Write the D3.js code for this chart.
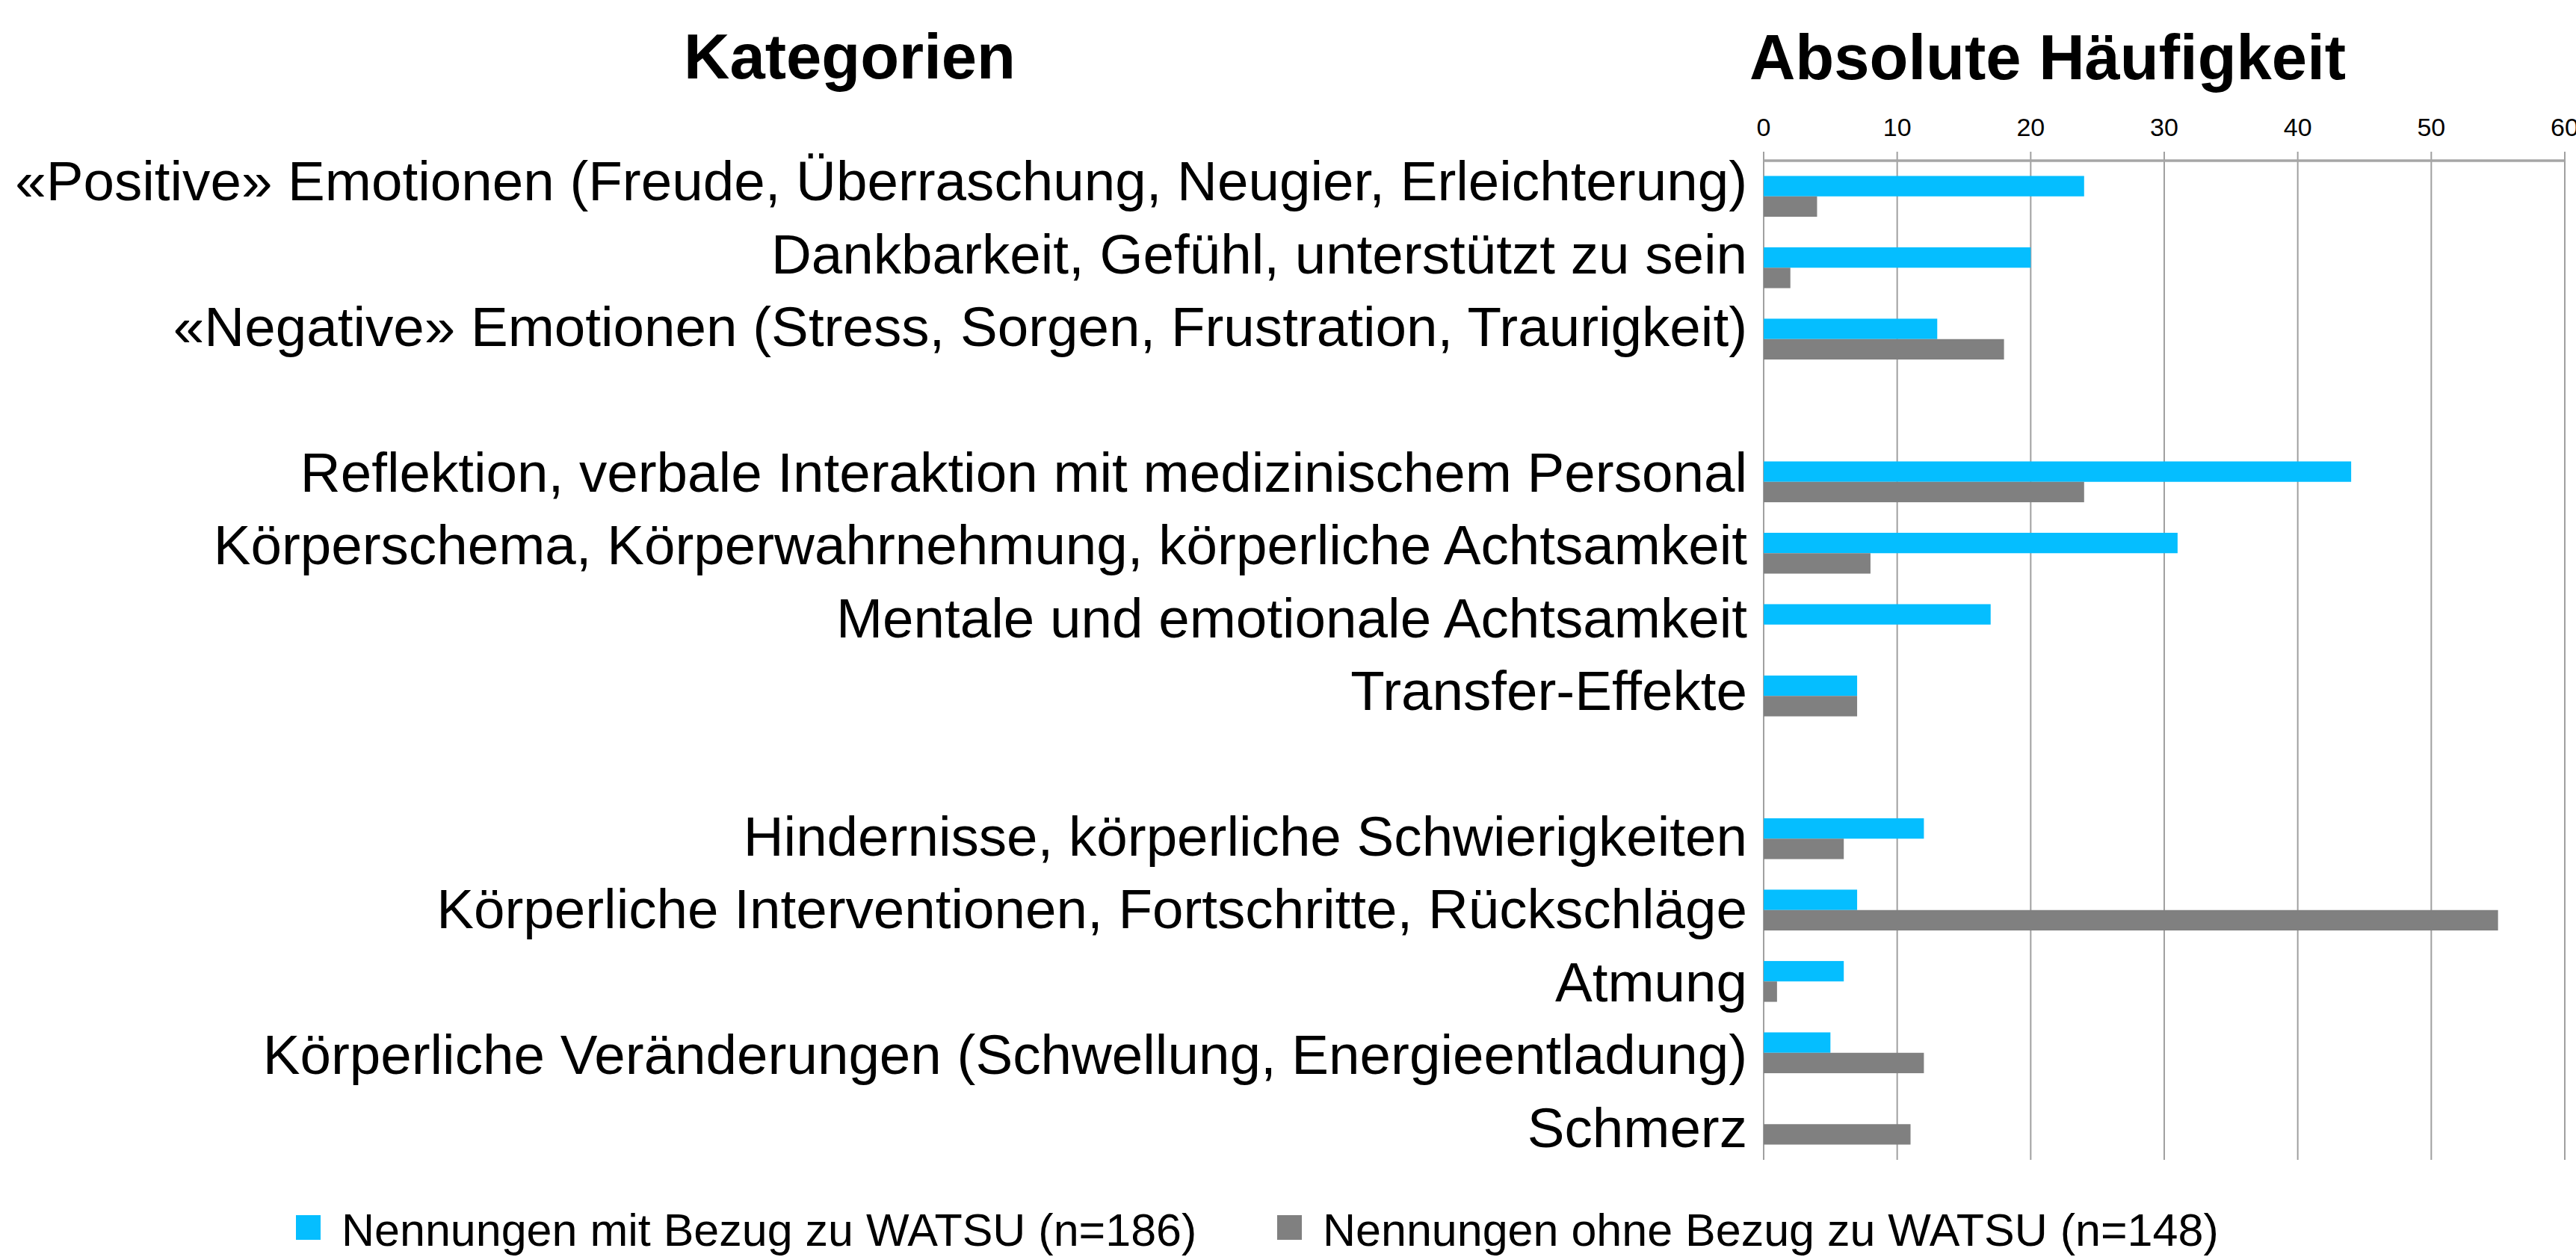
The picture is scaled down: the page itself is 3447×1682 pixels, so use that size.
<!DOCTYPE html>
<html>
<head>
<meta charset="utf-8">
<script src="https://cdn.jsdelivr.net/npm/d3@7"></script>
<style>
  html, body { margin: 0; padding: 0; background: #fff; }
  svg { display: block; }
  text { font-family: "Liberation Sans", Arial, sans-serif; fill: #000; }
</style>
</head>
<body>
<svg id="chart" width="3447" height="1682"></svg>
<script>
// ---- data ----
const categories = [
  "«Positive» Emotionen (Freude, Überraschung, Neugier, Erleichterung)",
  "Dankbarkeit, Gefühl, unterstützt zu sein",
  "«Negative» Emotionen (Stress, Sorgen, Frustration, Traurigkeit)",
  "",
  "Reflektion, verbale Interaktion mit medizinischem Personal",
  "Körperschema, Körperwahrnehmung, körperliche Achtsamkeit",
  "Mentale und emotionale Achtsamkeit",
  "Transfer-Effekte",
  "",
  "Hindernisse, körperliche Schwierigkeiten",
  "Körperliche Interventionen, Fortschritte, Rückschläge",
  "Atmung",
  "Körperliche Veränderungen (Schwellung, Energieentladung)",
  "Schmerz"
];
const withWatsu    = [24, 20, 13, null, 44, 31, 17, 7, null, 12, 7, 6, 5, 0];
const withoutWatsu = [4, 2, 18, null, 24, 8, 0, 7, null, 6, 55, 1, 12, 11];
const seriesNames = ["Nennungen mit Bezug zu WATSU (n=186)", "Nennungen ohne Bezug zu WATSU (n=148)"];
const xTicks = [0, 10, 20, 30, 40, 50, 60];
const titleLeft = "Kategorien";
const titleRight = "Absolute Häufigkeit";

// ---- layout ----
const colors = ["#05BEFF", "#808080"];
const plotLeft = 2360, plotRight = 3432, plotTop = 215, plotBottom = 1552;

const svg = d3.select("#chart");
const idx = categories.map((d, i) => i);

const x = d3.scaleLinear().domain([0, 60]).range([plotLeft, plotRight]);
const y0 = d3.scaleBand().domain(idx).range([plotTop, plotBottom])
  .paddingInner(0.428).paddingOuter(0.214);
const y1 = d3.scaleBand().domain([0, 1]).range([0, y0.bandwidth()]);
const yLabel = d3.scalePoint().domain(idx).range([268.3, 1534.5]);

// gridlines (vertical) with small outward ticks above the axis
svg.append("g").selectAll("line").data(xTicks).join("line")
  .attr("x1", d => x(d)).attr("x2", d => x(d))
  .attr("y1", plotTop - 12).attr("y2", plotBottom)
  .attr("stroke", "#a0a0a0").attr("stroke-width", 2);

// top axis line
svg.append("line")
  .attr("x1", plotLeft).attr("x2", plotRight)
  .attr("y1", plotTop).attr("y2", plotTop)
  .attr("stroke", "#a6a6a6").attr("stroke-width", 3.5);

// tick labels
svg.append("g").selectAll("text").data(xTicks).join("text")
  .attr("x", d => x(d)).attr("y", 182.3)
  .attr("text-anchor", "middle")
  .attr("font-size", 34)
  .text(d => d);

// bars
const series = [withWatsu, withoutWatsu];
series.forEach((vals, s) => {
  svg.append("g").selectAll("rect")
    .data(idx.filter(i => vals[i] != null && vals[i] > 0))
    .join("rect")
    .attr("x", x(0))
    .attr("y", i => y0(i) + y1(s))
    .attr("width", i => x(vals[i]) - x(0))
    .attr("height", y1.bandwidth())
    .attr("fill", colors[s]);
});

// category labels
svg.append("g").selectAll("text").data(idx.filter(i => categories[i] !== "")).join("text")
  .attr("x", 2338)
  .attr("y", i => yLabel(i))
  .attr("text-anchor", "end")
  .attr("font-size", 74.6)
  .text(i => categories[i]);

// titles
svg.append("text").attr("x", 1137).attr("y", 104.5)
  .attr("text-anchor", "middle").attr("font-size", 85).attr("font-weight", "bold")
  .text(titleLeft);
svg.append("text").attr("x", 2740).attr("y", 106)
  .attr("text-anchor", "middle").attr("font-size", 85).attr("font-weight", "bold")
  .text(titleRight);

// legend
const legendX = [396, 1709];
const legend = svg.append("g").selectAll("g").data(seriesNames).join("g");
legend.append("rect")
  .attr("x", (d, i) => legendX[i]).attr("y", 1626)
  .attr("width", 33).attr("height", 33)
  .attr("fill", (d, i) => colors[i]);
legend.append("text")
  .attr("x", (d, i) => legendX[i] + 61).attr("y", 1667)
  .attr("font-size", 61)
  .text(d => d);
</script>
</body>
</html>
